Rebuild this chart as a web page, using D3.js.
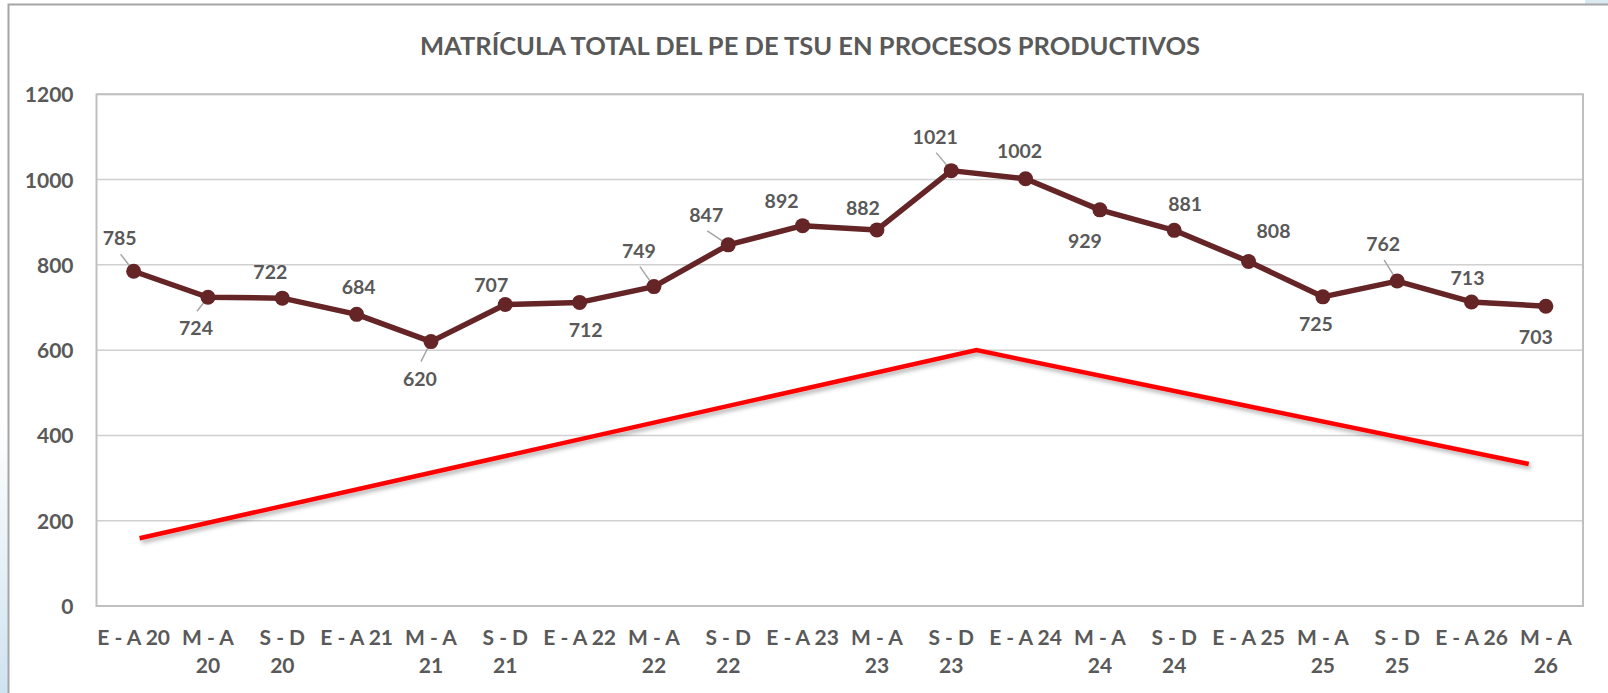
<!DOCTYPE html>
<html>
<head>
<meta charset="utf-8">
<script src="https://d3js.org/d3.v7.min.js"></script>
<style>
    body { margin: 0; background: #fff; }
    svg text { font-family: Lato, "Open Sans", sans-serif; font-weight: bold; fill: #595959; }
</style>
</head>
<body>
<div id="chart"></div>
<script>
// chart data
let title = 'MATRÍCULA TOTAL DEL PE DE TSU EN PROCESOS PRODUCTIVOS';
let periods = ['E - A 20', 'M - A 20', 'S - D 20', 'E - A 21', 'M - A 21', 'S - D 21',
               'E - A 22', 'M - A 22', 'S - D 22', 'E - A 23', 'M - A 23', 'S - D 23',
               'E - A 24', 'M - A 24', 'S - D 24', 'E - A 25', 'M - A 25', 'S - D 25',
               'E - A 26', 'M - A 26'];
let enrolment = [785, 724, 722, 684, 620, 707, 712, 749, 847, 892, 882, 1021,
                 1002, 929, 881, 808, 725, 762, 713, 703];
let yTicks = [0, 200, 400, 600, 800, 1000, 1200];
// red trend sketch: position along the category axis (index) and value
let trendIndex = [0.08, 11.34, 18.77];
let trendValue = [159, 600, 333];

// label placement (dx, dy from the marker) and which ones get a leader line
let labelOffsets = [[-14,-26],[-12,38],[-12,-19],[2,-20],[-11,44],[-14,-13],[6,35],
                    [-15,-29],[-22,-23],[-21,-18],[-14,-15],[-16,-27],[-6,-21],[-15,38],
                    [11,-19],[25,-23],[-7,34],[-14,-30],[-4,-17],[-10,38]];
let leaders = [0, 1, 4, 7, 8, 11, 17];

let config = {
    svg: {width: 1608, height: 693},
    plot: {x: 96.5, y: 94.3, width: 1486.5, height: 511.7}
};

let svg = d3.select('#chart')
    .append('svg')
        .attr('width', config.svg.width)
        .attr('height', config.svg.height);

let defs = svg.append('defs');
let grad = defs.append('linearGradient')
        .attr('id', 'bgblue')
        .attr('x1', 0).attr('y1', 0).attr('x2', 0).attr('y2', 1);
grad.append('stop').attr('offset', '0%').attr('stop-color', '#ffffff');
grad.append('stop').attr('offset', '100%').attr('stop-color', '#cfe3f0');

defs.append('filter')
        .attr('id', 'shadow')
        .attr('x', '-5%').attr('y', '-20%').attr('width', '110%').attr('height', '160%')
    .append('feDropShadow')
        .attr('dx', 2).attr('dy', 3).attr('stdDeviation', 2)
        .attr('flood-color', '#000').attr('flood-opacity', 0.3);

// slide background peeking out round the chart
svg.append('rect')
        .attr('x', 0).attr('y', 420).attr('width', 8).attr('height', 273)
        .attr('fill', 'url(#bgblue)');
svg.append('rect')
        .attr('x', 1585).attr('y', 0).attr('width', 23).attr('height', 4)
        .attr('fill', '#dbe9f3');

// chart area
svg.append('rect')
        .attr('x', 8.5).attr('y', 4.5)
        .attr('width', 1620).attr('height', 720)
        .attr('fill', '#fff')
        .attr('stroke', '#a6a6a6')
        .attr('stroke-width', 2);

svg.append('text')
        .attr('x', 810)
        .attr('y', 55)
        .attr('text-anchor', 'middle')
        .style('font-size', '25.5px')
        .text(title);

let plot = svg.append('g')
        .attr('transform', `translate(${config.plot.x},${config.plot.y})`);

let x = d3.scaleBand()
    .domain(periods)
    .range([0, config.plot.width]);

let xi = d3.scaleLinear()
    .domain([0, periods.length - 1])
    .range([x.bandwidth() / 2, config.plot.width - x.bandwidth() / 2]);

let y = d3.scaleLinear()
    .domain([0, 1200])
    .range([config.plot.height, 0]);

// gridlines
plot.append('g')
    .selectAll('line')
    .data(yTicks)
    .join('line')
        .attr('x1', 0)
        .attr('x2', config.plot.width)
        .attr('y1', d => y(d))
        .attr('y2', d => y(d))
        .attr('stroke', '#d0d0d0')
        .attr('stroke-width', 1.5);

plot.append('rect')
        .attr('width', config.plot.width)
        .attr('height', config.plot.height)
        .attr('fill', 'none')
        .attr('stroke', '#bfbfbf')
        .attr('stroke-width', 2);

// y axis
let yAxis = g => g
    .call(d3.axisLeft(y).tickValues(yTicks).tickFormat(d3.format('d')).tickSize(0).tickPadding(23))
    .call(g => g.select('.domain').remove())
    .call(g => g.selectAll('text')
        .style('font-size', '21px')
        .attr('dy', '0.36em')
        .attr('fill', '#595959'));

plot.append('g').call(yAxis);

// x axis with wrapped labels
let xAxis = g => g
    .attr('transform', `translate(0,${config.plot.height})`)
    .call(d3.axisBottom(x).tickSize(0).tickPadding(0))
    .call(g => g.select('.domain').remove())
    .call(g => g.selectAll('.tick text').each(function(d) {
        let t = d3.select(this).text('')
            .style('font-size', '21px')
            .attr('fill', '#595959')
            .attr('y', 0)
            .attr('dy', 0);
        let lines = d.startsWith('E') ? [d] : [d.slice(0, 5), d.slice(6)];
        lines.forEach((s, i) => {
            t.append('tspan')
                .attr('x', 0)
                .attr('y', 39 + i * 28)
                .text(s);
        });
    }));

plot.append('g').call(xAxis);

// red trend line
let trend = d3.line()
    .x((d, i) => xi(trendIndex[i]))
    .y(d => y(d));

plot.append('path')
        .datum(trendValue)
        .attr('d', trend)
        .attr('fill', 'none')
        .attr('stroke', '#ff0000')
        .attr('stroke-width', 4.5)
        .attr('filter', 'url(#shadow)');

// leader lines
plot.append('g')
    .selectAll('line')
    .data(leaders)
    .join('line')
        .attr('x1', i => xi(i) + labelOffsets[i][0] + 1)
        .attr('y1', i => y(enrolment[i]) + labelOffsets[i][1] + (labelOffsets[i][1] < 0 ? 9 : -24))
        .attr('x2', i => xi(i))
        .attr('y2', i => y(enrolment[i]))
        .attr('stroke', '#a6a6a6')
        .attr('stroke-width', 1.5);

// enrolment line
let line = d3.line()
    .x((d, i) => xi(i))
    .y(d => y(d));

plot.append('path')
        .datum(enrolment)
        .attr('d', line)
        .attr('fill', 'none')
        .attr('stroke', '#652426')
        .attr('stroke-width', 5.5)
        .attr('stroke-linejoin', 'round');

plot.append('g')
    .selectAll('circle')
    .data(enrolment)
    .join('circle')
        .attr('cx', (d, i) => xi(i))
        .attr('cy', d => y(d))
        .attr('r', 7.5)
        .attr('fill', '#652426');

// data labels
plot.append('g')
    .selectAll('text')
    .data(enrolment)
    .join('text')
        .attr('x', (d, i) => xi(i) + labelOffsets[i][0])
        .attr('y', (d, i) => y(d) + labelOffsets[i][1])
        .attr('text-anchor', 'middle')
        .style('font-size', '19.5px')
        .attr('fill', '#404040')
        .text(d => d);
</script>
</body>
</html>
